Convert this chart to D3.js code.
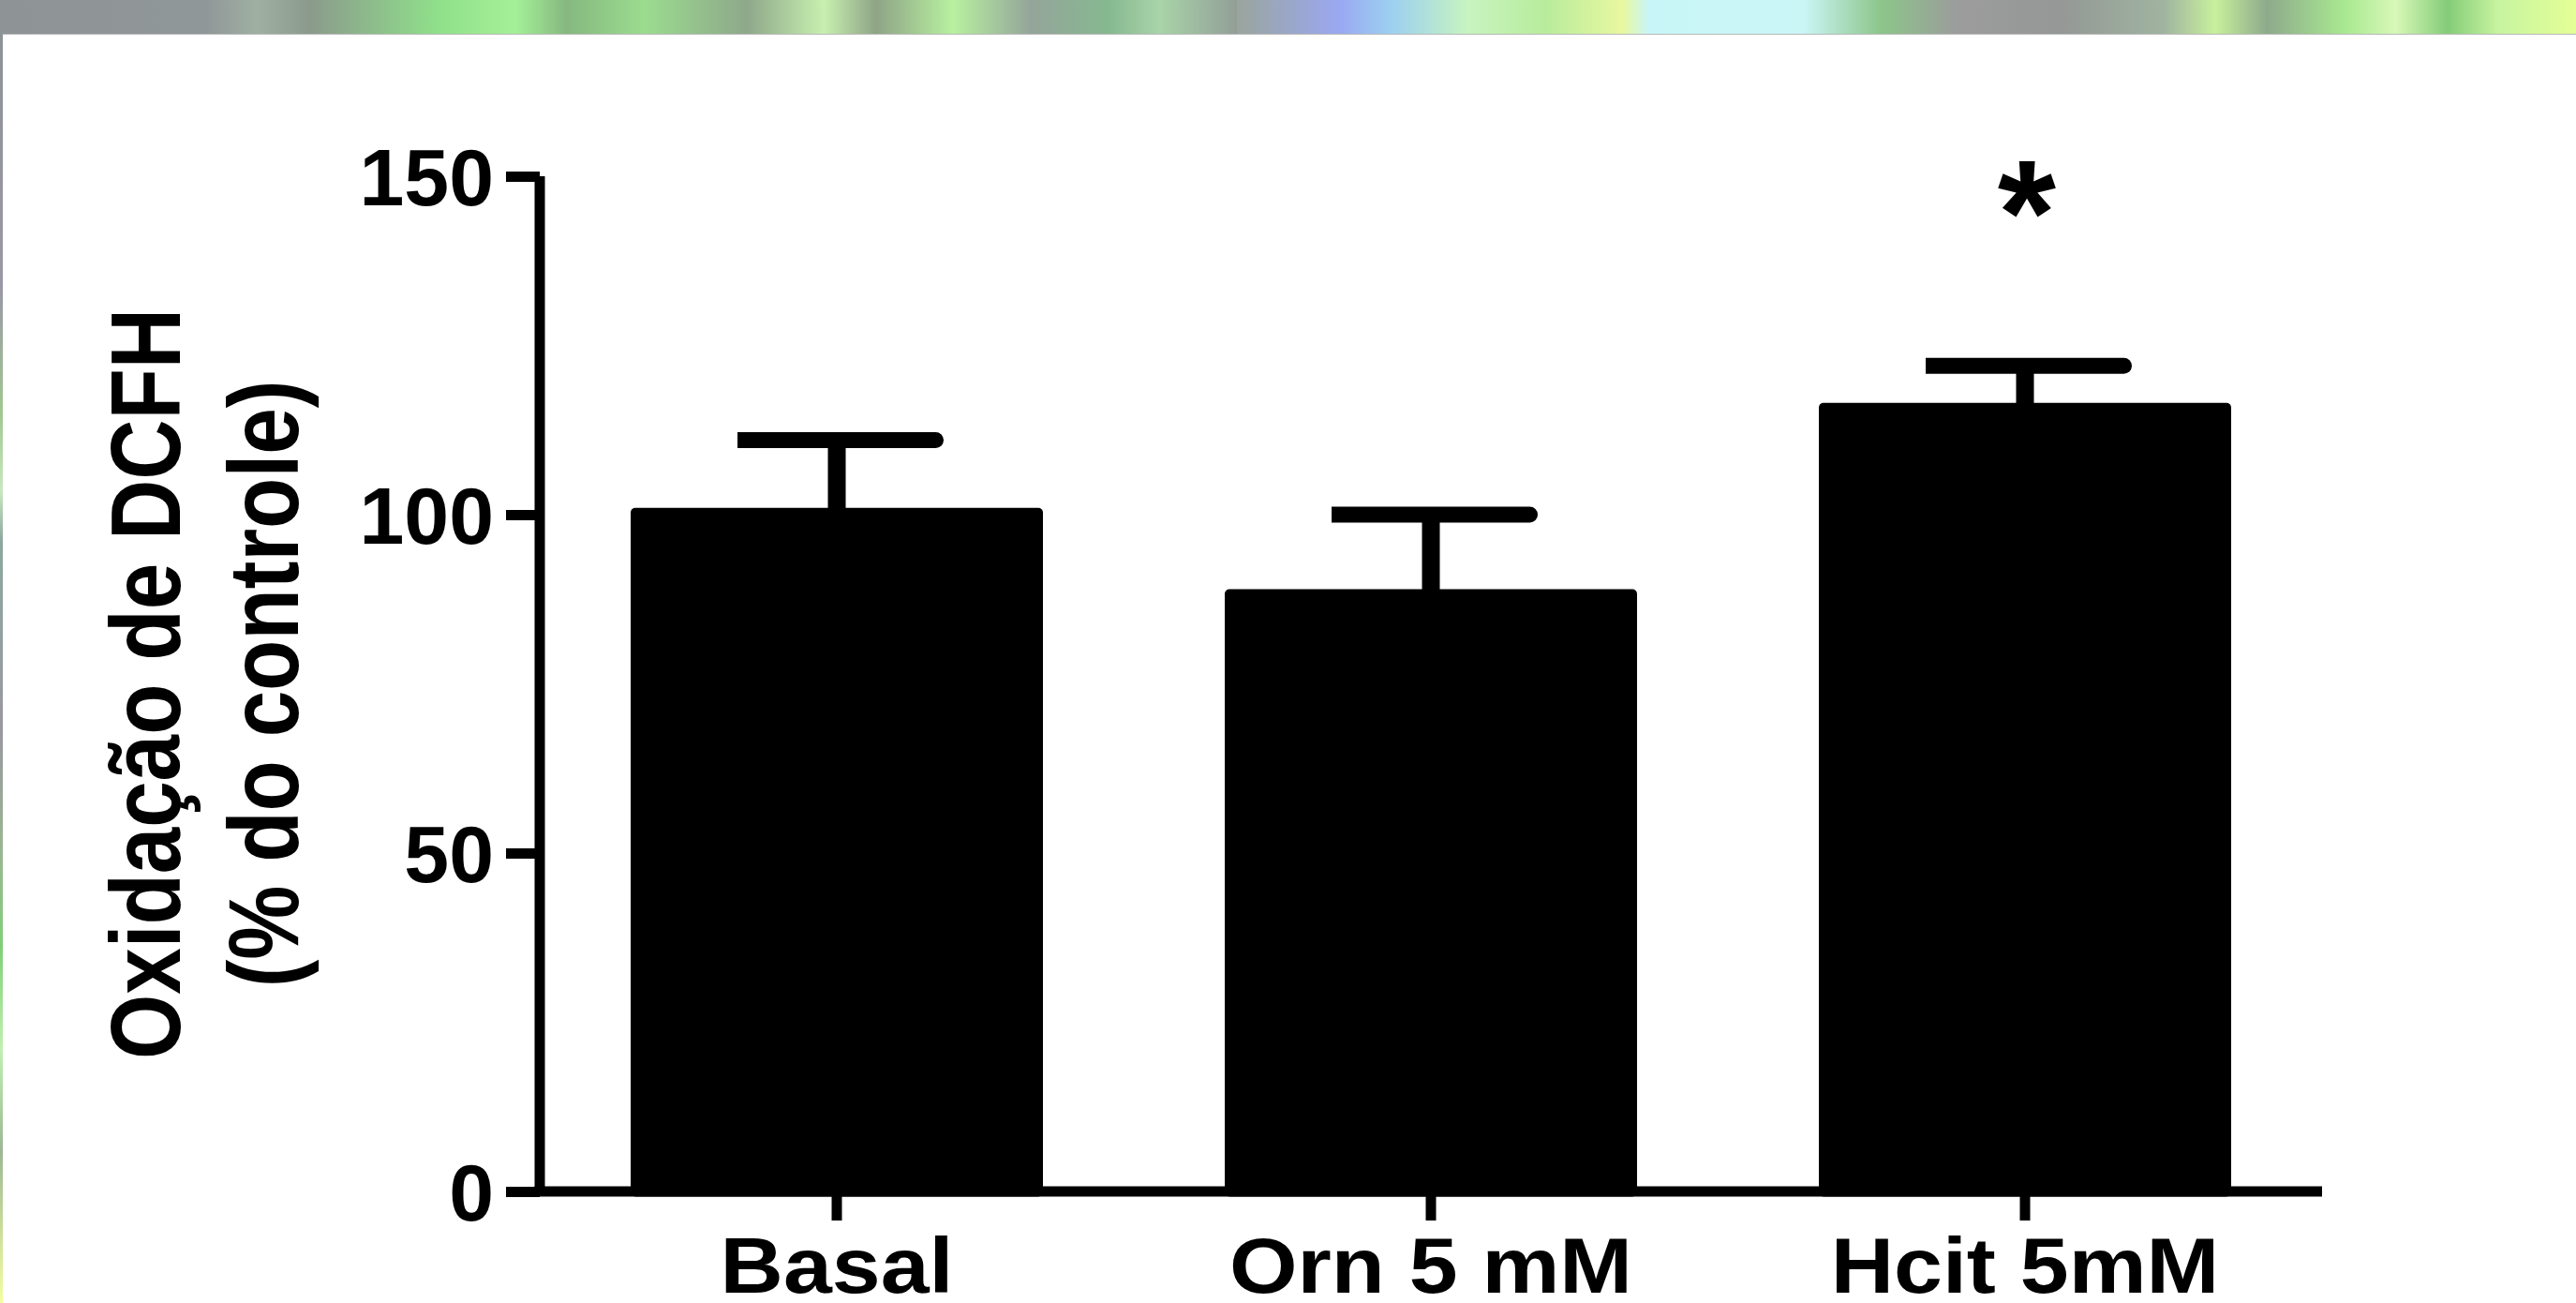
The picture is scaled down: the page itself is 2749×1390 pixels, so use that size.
<!DOCTYPE html>
<html>
<head>
<meta charset="utf-8">
<script src="https://cdn.jsdelivr.net/npm/d3@7"></script>
<style>
  html, body { margin: 0; padding: 0; background: #fff; }
  svg { display: block; }
  text { font-family: "Liberation Sans", Arial, sans-serif; font-weight: bold; fill: #000; }
</style>
</head>
<body>
<div id="chart"></div>
<script>
// DCFH oxidation bar chart (mean + SEM), Prism style, drawn with d3 + SVG.
var categories = ["Basal", "Orn 5 mM", "Hcit 5mM"];
var means = [101, 89, 116.5];
var sems = [10, 11, 5.5];
var marks = ["", "", "*"];
var yTicks = [0, 50, 100, 150];
var yTitle = ["Oxidação de DCFH", "(% do controle)"];

(function () {
  var W = 2749, H = 1390;
  var AXW = 11;            // axis stroke width
  var axisX = 576, baseY = 1271, topY = 188, rightX = 2478;

  var svg = d3.select("#chart").append("svg")
    .attr("width", W).attr("height", H);

  // -- decorative slide background: blurred strip along top and left edge --
  var defs = svg.append("defs");
  var topStops = [
    [0, "#8e9396"], [0.08, "#909799"], [0.1, "#9fb0a2"], [0.12, "#8b9a8c"],
    [0.17, "#8fe08a"], [0.2, "#a4f098"], [0.22, "#86b880"], [0.25, "#9bdc8f"],
    [0.29, "#8ea88a"], [0.32, "#c8f0b0"], [0.34, "#8ea486"], [0.37, "#b8f0a0"],
    [0.4, "#94a59a"], [0.43, "#86b890"], [0.45, "#a9d4a8"], [0.48, "#929f98"],
    [0.46, "#9aa59c"], [0.52, "#9aa8f2"], [0.54, "#9cd0f0"], [0.57, "#c8f4c0"],
    [0.6, "#b8ec9c"], [0.63, "#e8f8a0"], [0.64, "#c8f6f8"], [0.7, "#cbf6f6"],
    [0.73, "#8cc68a"], [0.76, "#9c9c9c"], [0.8, "#949896"], [0.84, "#a0b4a0"],
    [0.86, "#c8f09c"], [0.88, "#8eaa8c"], [0.91, "#a8e890"], [0.93, "#d8f8b8"],
    [0.95, "#84cc78"], [0.97, "#c8f4a0"], [1, "#e4ff96"]
  ];
  var gTop = defs.append("linearGradient").attr("id", "bgTop")
    .attr("x1", 0).attr("x2", 1).attr("y1", 0).attr("y2", 0);
  gTop.selectAll("stop").data(topStops).join("stop")
    .attr("offset", function (d) { return d[0]; })
    .attr("stop-color", function (d) { return d[1]; });

  var leftStops = [
    [0, "#8e9396"], [0.2, "#9a98a6"], [0.3, "#a0c890"], [0.36, "#c8e8c0"],
    [0.4, "#8ca8a0"], [0.55, "#9a98a0"], [0.65, "#98b890"], [0.72, "#80d078"],
    [0.8, "#c0f0b0"], [0.88, "#9cb894"], [1, "#f4ffa0"]
  ];
  var gLeft = defs.append("linearGradient").attr("id", "bgLeft")
    .attr("x1", 0).attr("x2", 0).attr("y1", 0).attr("y2", 1);
  gLeft.selectAll("stop").data(leftStops).join("stop")
    .attr("offset", function (d) { return d[0]; })
    .attr("stop-color", function (d) { return d[1]; });

  svg.append("rect").attr("x", 0).attr("y", 0).attr("width", W).attr("height", 36)
    .attr("fill", "url(#bgTop)");
  svg.append("rect").attr("x", 0).attr("y", 36).attr("width", 3).attr("height", H - 36)
    .attr("fill", "url(#bgLeft)");
  svg.append("line").attr("x1", 3).attr("x2", W).attr("y1", 36.5).attr("y2", 36.5)
    .attr("stroke", "#b8b8b8").attr("stroke-width", 1);

  // -- scales -------------------------------------------------------------
  var x = d3.scaleBand().domain(categories)
    .range([axisX, rightX]).paddingInner(0.306).paddingOuter(0.153);
  var y = d3.scaleLinear().domain([0, 150]).range([baseY, topY]);

  var data = categories.map(function (c, i) {
    return { cat: c, mean: means[i], sem: sems[i], mark: marks[i] };
  });

  // -- bars ---------------------------------------------------------------
  svg.append("g").selectAll("rect")
    .data(data).join("rect")
    .attr("x", function (d) { return x(d.cat); })
    .attr("y", function (d) { return y(d.mean); })
    .attr("width", x.bandwidth())
    .attr("height", function (d) { return baseY + AXW / 2 - y(d.mean); })
    .attr("rx", 5)
    .attr("fill", "#000");

  // -- error bars (upper only) --------------------------------------------
  var capW = x.bandwidth() * 0.5, capH = 17, stemW = 19;
  var eb = svg.append("g").selectAll("g").data(data).join("g");
  eb.append("rect")
    .attr("x", function (d) { return x(d.cat) + x.bandwidth() / 2 - stemW / 2; })
    .attr("y", function (d) { return y(d.mean + d.sem); })
    .attr("width", stemW)
    .attr("height", function (d) { return y(d.mean) - y(d.mean + d.sem) + 2; })
    .attr("fill", "#000");
  eb.append("path")
    .attr("d", function (d) {
      var cx = x(d.cat) + x.bandwidth() / 2 + 4;
      var l = cx - capW / 2, r = cx + capW / 2, cy = y(d.mean + d.sem), h = capH / 2;
      return "M" + l + "," + (cy - h) + "H" + (r - h) +
        "A" + h + "," + h + " 0 0 1 " + (r - h) + "," + (cy + h) + "H" + l + "Z";
    })
    .attr("fill", "#000");

  // significance marker
  svg.append("g").selectAll("text")
    .data(data.filter(function (d) { return d.mark; })).join("text")
    .attr("x", function (d) { return x(d.cat) + x.bandwidth() / 2 + 2; })
    .attr("y", function (d) { return y(d.mean + d.sem) - 108; })
    .attr("text-anchor", "middle")
    .attr("font-size", 160)
    .text(function (d) { return d.mark; });

  // -- y axis -------------------------------------------------------------
  var yAxis = svg.append("g")
    .attr("transform", "translate(" + axisX + ",0)")
    .call(d3.axisLeft(y).tickValues(yTicks).tickSize(36).tickSizeOuter(0).tickPadding(13));
  yAxis.select(".domain").remove();
  yAxis.append("line")
    .attr("x1", 0).attr("x2", 0).attr("y1", topY).attr("y2", baseY)
    .attr("stroke", "#000").attr("stroke-width", AXW);
  yAxis.selectAll(".tick line").attr("stroke", "#000").attr("stroke-width", AXW);
  yAxis.selectAll(".tick text")
    .attr("font-size", 86).attr("font-family", null)
    .attr("dy", "0.36em").attr("fill", "#000");

  // -- x axis -------------------------------------------------------------
  var xAxis = svg.append("g")
    .attr("transform", "translate(0," + baseY + ")")
    .call(d3.axisBottom(x).tickSize(31).tickSizeOuter(0));
  xAxis.select(".domain").remove();
  xAxis.append("line")
    .attr("x1", axisX - AXW / 2).attr("x2", rightX).attr("y1", 0).attr("y2", 0)
    .attr("stroke", "#000").attr("stroke-width", AXW);
  xAxis.selectAll(".tick line").attr("stroke", "#000").attr("stroke-width", AXW);
  xAxis.selectAll(".tick text")
    .attr("font-size", 84).attr("font-family", null)
    .attr("y", 108).attr("dy", 0)
    .attr("transform", "scale(1.11,1)")
    .attr("fill", "#000");

  // -- y title (two lines, rotated) ---------------------------------------
  var midY = (topY + baseY) / 2;
  svg.append("g").selectAll("text")
    .data(yTitle).join("text")
    .attr("transform", function (d, i) {
      return "translate(" + (192 + i * 126) + "," + midY + ") scale(1.18,1) rotate(-90)";
    })
    .attr("text-anchor", "middle")
    .attr("font-size", 89)
    .text(function (d) { return d; });
})();
</script>
</body>
</html>
